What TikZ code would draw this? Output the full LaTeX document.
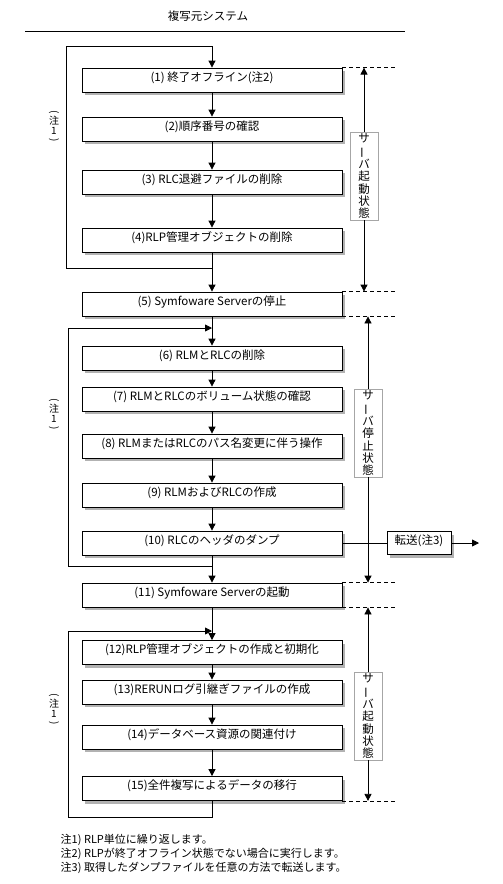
\documentclass[tikz,border=0pt]{standalone}
\usepackage{fontspec}
\setmainfont{Noto Sans CJK JP}
\usetikzlibrary{shadows,arrows.meta}
\tikzstyle{proc}=[draw,fill=white,line width=0.8pt,minimum width=260pt,minimum height=24pt,inner sep=0pt,text height=8pt,text depth=6pt,font=\fontsize{11.5}{14}\selectfont,drop shadow={shadow xshift=3pt,shadow yshift=-3pt,fill=gray!60,opacity=1}]
\tikzstyle{state}=[draw=gray!70,fill=white,line width=0.8pt,minimum width=28pt,minimum height=88pt,inner sep=0pt,align=center,font=\fontsize{11.5}{12.2}\selectfont]
\tikzstyle{vnote}=[inner sep=0pt,align=center,font=\fontsize{10}{9.5}\selectfont]
\tikzstyle{dashline}=[line width=0.6pt,dash pattern=on 4pt off 3pt]
\newcommand{\vchoon}{\rotatebox[origin=c]{90}{ー}}
\newcommand{\vparen}[1]{\rotatebox[origin=c]{-90}{#1}}

\begin{document}
\begin{tikzpicture}[x=1pt,y=-1pt,line width=0.8pt,>={Triangle[length=7pt,width=7pt]}]
\useasboundingbox (0,0) rectangle (503,884);
\node[font=\fontsize{11.5}{14}\selectfont] at (208,16) (title) {複写元システム};
\coordinate (ruleL) at (25,31);
\coordinate (ruleR) at (405,31);
\draw (ruleL) -- (ruleR);

\node[proc] at (212, 80) (b1) {(1) 終了オフライン(注2)};
\node[proc] at (212, 129) (b2) {(2)順序番号の確認};
\node[proc] at (212, 182) (b3) {(3) RLC退避ファイルの削除};
\node[proc] at (212, 240) (b4) {(4)RLP管理オブジェクトの削除};
\node[proc] at (212, 304) (b5) {(5) Symfoware Serverの停止};
\node[proc] at (212, 358) (b6) {(6) RLMとRLCの削除};
\node[proc] at (212, 399) (b7) {(7) RLMとRLCのボリューム状態の確認};
\node[proc] at (212, 446) (b8) {(8) RLMまたはRLCのパス名変更に伴う操作};
\node[proc] at (212, 495) (b9) {(9) RLMおよびRLCの作成};
\node[proc] at (212, 543) (b10) {(10) RLCのヘッダのダンプ};
\node[proc] at (212, 595) (b11) {(11) Symfoware Serverの起動};
\node[proc] at (212, 652.5) (b12) {(12)RLP管理オブジェクトの作成と初期化};
\node[proc] at (212, 692) (b13) {(13)RERUNログ引継ぎファイルの作成};
\node[proc] at (212, 737) (b14) {(14)データベース資源の関連付け};
\node[proc] at (212, 788.5) (b15) {(15)全件複写によるデータの移行};

\draw[->] (b1) edge (b2);
\draw[->] (b2) edge (b3);
\draw[->] (b3) edge (b4);
\draw[->] (b4) edge (b5);
\draw[->] (b5) edge (b6);
\draw[->] (b6) edge (b7);
\draw[->] (b7) edge (b8);
\draw[->] (b8) edge (b9);
\draw[->] (b9) edge (b10);
\draw[->] (b10) edge (b11);
\draw[->] (b11) edge (b12);
\draw[->] (b12) edge (b13);
\draw[->] (b13) edge (b14);
\draw[->] (b14) edge (b15);

% repeat loops
\coordinate (c1j) at (212, 268);
\coordinate (c1bl) at (66, 268);
\coordinate (c1tl) at (66, 46);
\draw[->] (c1j) -- (c1bl) -- (c1tl) -| (b1);
\coordinate (c2j) at (212, 566);
\coordinate (c2bl) at (68, 566);
\coordinate (c2tl) at (68, 328);
\coordinate (c2t) at (212, 328);
\draw[->] (c2j) -- (c2bl) -- (c2tl) -- (c2t);
\coordinate (c3j) at (212, 817);
\coordinate (c3bl) at (68, 817);
\coordinate (c3tl) at (68, 631);
\coordinate (c3t) at (212, 631);
\draw[->] (b15) -- (c3j) -- (c3bl) -- (c3tl) -- (c3t);
\node[vnote] at (54, 127) (n1) {\vparen{(}\\注\\1\\\vparen{)}};
\node[vnote] at (54, 415) (n2) {\vparen{(}\\注\\1\\\vparen{)}};
\node[vnote] at (54, 710) (n3) {\vparen{(}\\注\\1\\\vparen{)}};

% server states
\coordinate (rim) at (398, 0);
\draw[dashline] (b1.north east) -- (b1.north east -| rim);
\draw[dashline] (b5.north east) -- (b5.north east -| rim);
\draw[dashline] (b5.south east) -- (b5.south east -| rim);
\draw[dashline] (b11.north east) -- (b11.north east -| rim);
\draw[dashline] (b11.south east) -- (b11.south east -| rim);
\draw[dashline] (b15.south east) -- (b15.south east -| rim);
\node[state] at (364, 176) (st1) {サ\\\vchoon\\バ\\起\\動\\状\\態};
\draw[->] (st1) -- (st1 |- b1.north);
\draw[->] (st1) -- (st1 |- b5.north);
\node[state] at (368, 433) (st2) {サ\\\vchoon\\バ\\停\\止\\状\\態};
\draw[->] (st2) -- (st2 |- b5.south);
\draw[->] (st2) -- (st2 |- b11.north);
\node[state] at (368, 716) (st3) {サ\\\vchoon\\バ\\起\\動\\状\\態};
\draw[->] (st3) -- (st3 |- b11.south);
\draw[->] (st3) -- (st3 |- b15.south);

% transfer
\node[proc,minimum width=64pt,minimum height=23pt] at (419, 543) (tr) {転送(注3)};
\coordinate (trout) at (479, 543);
\draw (b10) -- (tr);
\draw[->] (tr) -- (trout);

\node[anchor=west,align=left,font=\fontsize{11}{14}\selectfont] at (57, 854) (foot) {注1) RLP単位に繰り返します。\\注2) RLPが終了オフライン状態でない場合に実行します。\\注3) 取得したダンプファイルを任意の方法で転送します。};
\end{tikzpicture}
\end{document}
